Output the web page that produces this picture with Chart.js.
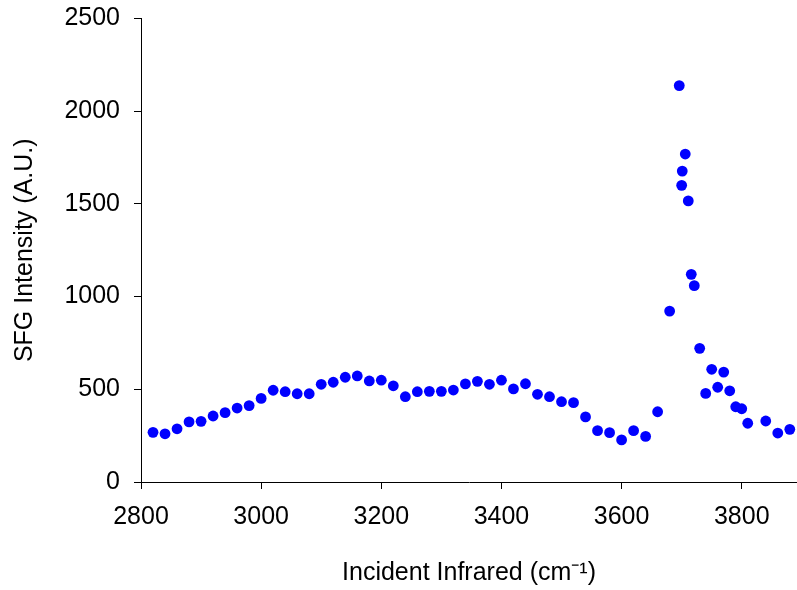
<!DOCTYPE html>
<html>
<head>
<meta charset="utf-8">
<script src="https://cdn.jsdelivr.net/npm/chart.js@4/dist/chart.umd.min.js"></script>
<style>
  html, body { margin: 0; padding: 0; background: #fff; }
  #wrap { position: relative; width: 797px; height: 590px; }
</style>
</head>
<body>
<div id="wrap"><canvas id="chart"></canvas></div>
<script>
// SFG spectrum
const wavenumbers = [
  2820, 2840, 2860, 2880, 2900, 2920, 2940, 2960, 2980, 3000,
  3020, 3040, 3060, 3080, 3100, 3120, 3140, 3160, 3180, 3200,
  3220, 3240, 3260, 3280, 3300, 3320, 3340, 3360, 3380, 3400,
  3420, 3440, 3460, 3480, 3500, 3520, 3540, 3560, 3580, 3600,
  3620, 3640, 3660, 3680, 3696, 3701, 3700, 3706, 3711, 3716,
  3721, 3730, 3740, 3750, 3760, 3770, 3780, 3790, 3800, 3810,
  3840, 3860, 3880
];
const intensities = [
  268, 260, 287, 324, 327, 356, 374, 399, 412, 451,
  495, 487, 476, 476, 527, 538, 565, 572, 545, 549,
  519, 460, 487, 489, 489, 496, 529, 543, 527, 549,
  502, 530, 473, 460, 433, 428, 351, 277, 266, 227,
  277, 246, 379, 922, 2138, 1677, 1600, 1769, 1516, 1120,
  1059, 721, 478, 608, 511, 593, 492, 406, 395, 317,
  329, 264, 284
];
const xTicks = [2800, 3000, 3200, 3400, 3600, 3800];
const yTicks = [0, 500, 1000, 1500, 2000, 2500];

const points = wavenumbers.map((x, i) => ({ x: x, y: intensities[i] }));
const tickFont = { family: "'Liberation Sans', Arial, sans-serif", size: 25 };
const titleFont = { family: "'Liberation Sans', Arial, sans-serif", size: 25 };

new Chart(document.getElementById('chart'), {
  type: 'scatter',
  data: {
    datasets: [{
      data: points,
      backgroundColor: '#0000ff',
      borderWidth: 0,
      pointRadius: 5.4,
      pointHoverRadius: 5.4,
      clip: false
    }]
  },
  options: {
    responsive: true,
    maintainAspectRatio: false,
    animation: false,
    events: [],
    // autoPadding off so the point radius does not shrink the plot area
    layout: { autoPadding: false, padding: { top: 18.5, right: 0, left: 0, bottom: 0 } },
    plugins: { legend: { display: false }, tooltip: { enabled: false } },
    scales: {
      x: {
        type: 'linear',
        min: 2800,
        max: 3892,
        afterBuildTicks: (s) => { s.ticks = xTicks.map(v => ({ value: v })); },
        afterFit: (s) => { s.height = 108; s.paddingLeft = 0; s.paddingRight = 0; },
        ticks: { color: '#000', font: tickFont, padding: 13, maxRotation: 0, callback: (v) => String(v) },
        grid: { drawOnChartArea: false, drawTicks: true, tickLength: 7, color: '#000' },
        border: { color: '#000', width: 1 },
        title: { display: true, text: 'Incident Infrared (cm⁻¹)', color: '#000', font: titleFont, padding: { top: 0, bottom: 2 } }
      },
      y: {
        min: 0,
        max: 2500,
        afterBuildTicks: (s) => { s.ticks = yTicks.map(v => ({ value: v })); },
        afterFit: (s) => { s.width = 141; s.paddingTop = 0; s.paddingBottom = 0; },
        ticks: { color: '#000', font: tickFont, padding: 14, callback: (v) => String(v) },
        grid: { drawOnChartArea: false, drawTicks: true, tickLength: 7, color: '#000' },
        border: { color: '#000', width: 1 },
        title: { display: true, text: 'SFG Intensity (A.U.)', color: '#000', font: titleFont, padding: { top: 10, bottom: 0 } }
      }
    }
  }
});
</script>
</body>
</html>
